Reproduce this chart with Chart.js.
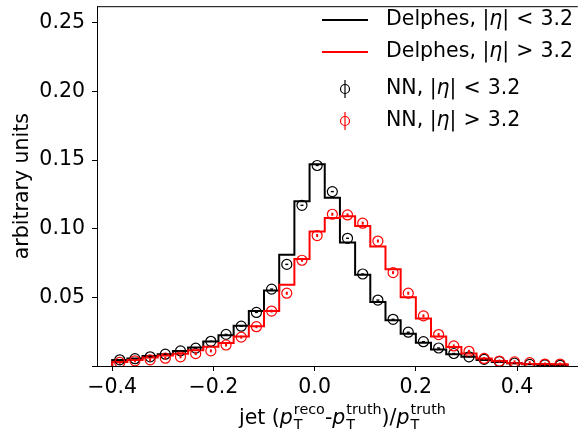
<!DOCTYPE html>
<html>
<head>
<meta charset="utf-8">
<script src="https://cdn.jsdelivr.net/npm/chart.js@4.4.1/dist/chart.umd.min.js"></script>
<style>
html, body { margin: 0; padding: 0; background: #fff; }
#wrap { width: 584px; height: 436px; position: relative; }
</style>
</head>
<body>
<div id="wrap"><canvas id="resChart"></canvas></div>
<script>
// bin edges of the pT resolution histogram
const binEdges = [-0.40, -0.37, -0.34, -0.31, -0.28, -0.25, -0.22, -0.19, -0.16, -0.13,
  -0.10, -0.07, -0.04, -0.01, 0.02, 0.05, 0.08, 0.11, 0.14, 0.17,
  0.20, 0.23, 0.26, 0.29, 0.32, 0.35, 0.38, 0.41, 0.44, 0.47, 0.50];

// Delphes, |eta| < 3.2 (black step)
const delphesCentral = [0.0043, 0.0055, 0.0072, 0.0086, 0.0110, 0.0134, 0.0179, 0.0224, 0.0294, 0.0400,
  0.0550, 0.0810, 0.1200, 0.1470, 0.1225, 0.0900, 0.0664, 0.0466, 0.0334, 0.0234,
  0.0170, 0.0120, 0.0086, 0.0067, 0.0043, 0.0030, 0.0020, 0.0012, 0.0008, 0.0005];
// Delphes, |eta| > 3.2 (red step)
const delphesForward = [0.0030, 0.0043, 0.0062, 0.0076, 0.0090, 0.0115, 0.0140, 0.0167, 0.0215, 0.0290,
  0.0400, 0.0592, 0.0780, 0.0980, 0.1078, 0.1090, 0.1020, 0.0870, 0.0704, 0.0500,
  0.0346, 0.0215, 0.0138, 0.0091, 0.0055, 0.0036, 0.0020, 0.0014, 0.0014, 0.0012];
// NN, |eta| < 3.2 (black circles)
const nnCentral = [0.0045, 0.0053, 0.0067, 0.0086, 0.0110, 0.0130, 0.0180, 0.0230, 0.0290, 0.0390,
  0.0560, 0.0740, 0.1170, 0.1460, 0.1270, 0.0930, 0.0670, 0.0480, 0.0340, 0.0246,
  0.0177, 0.0131, 0.0091, 0.0067, 0.0048, 0.0032, 0.0020, 0.0012, 0.0008, 0.0005];
// NN, |eta| > 3.2 (red circles)
const nnForward = [0.0026, 0.0038, 0.0045, 0.0057, 0.0067, 0.0090, 0.0110, 0.0153, 0.0210, 0.0286,
  0.0400, 0.0530, 0.0770, 0.0950, 0.1105, 0.1100, 0.1040, 0.0910, 0.0680, 0.0530,
  0.0365, 0.0229, 0.0146, 0.0107, 0.0055, 0.0036, 0.0030, 0.0024, 0.0014, 0.0014];

const xTicks = [-0.4, -0.2, 0.0, 0.2, 0.4];
const xTickLabels = ["\u22120.4", "\u22120.2", "0.0", "0.2", "0.4"];
const yTicks = [0, 0.05, 0.10, 0.15, 0.20, 0.25];
const yTickLabels = ["", "0.05", "0.10", "0.15", "0.20", "0.25"];

const FONT = "DejaVu Sans";
const FS = 20.5;

function stepPoints(vals) {
  const pts = [{x: binEdges[0], y: 0}];
  vals.forEach((v, i) => pts.push({x: binEdges[i], y: v}));
  pts.push({x: binEdges[vals.length], y: vals[vals.length - 1]});
  pts.push({x: binEdges[vals.length], y: 0});
  return pts;
}
function centerPoints(vals) {
  return vals.map((v, i) => ({x: (binEdges[i] + binEdges[i + 1]) / 2, y: v}));
}

// top spine, small error bars, legend, x title with sub/superscripts
const decor = {
  id: "decor",
  afterDatasetsDraw(chart) {
    const c = chart.ctx;
    // tiny error bars inside markers
    [2, 3].forEach(di => {
      const meta = chart.getDatasetMeta(di);
      c.fillStyle = chart.data.datasets[di].borderColor;
      meta.data.forEach(p => {
        if (di === 2) c.fillRect(p.x - 1.5, p.y - 0.7, 3, 1.4);
        else c.fillRect(p.x - 1, p.y - 1.5, 2, 3);
      });
    });
  },
  afterDraw(chart) {
    const c = chart.ctx;
    const a = chart.chartArea;
    c.save();
    c.strokeStyle = "#000";
    c.lineWidth = 1;
    c.beginPath();
    c.moveTo(a.left, a.top + 0.5);
    c.lineTo(a.right, a.top + 0.5);
    c.stroke();

    // legend
    const rows = [
      {type: "line", color: "#000", label: "Delphes, ", op: "<", y: 20},
      {type: "line", color: "#ff0000", label: "Delphes, ", op: ">", y: 52},
      {type: "pt", color: "#000", label: "NN, ", op: "<", y: 89},
      {type: "pt", color: "#ff0000", label: "NN, ", op: ">", y: 121}
    ];
    rows.forEach(r => {
      c.strokeStyle = r.color;
      if (r.type === "line") {
        c.lineWidth = 2;
        c.beginPath();
        c.moveTo(322, r.y);
        c.lineTo(368, r.y);
        c.stroke();
      } else {
        c.lineWidth = 1.2;
        c.beginPath();
        c.arc(345, r.y, 4.5, 0, Math.PI * 2);
        c.stroke();
        c.beginPath();
        c.moveTo(345, r.y - 9);
        c.lineTo(345, r.y + 9);
        c.stroke();
      }
      c.fillStyle = "#000";
      c.textBaseline = "middle";
      c.textAlign = "left";
      let x = 386;
      c.font = FS + "px '" + FONT + "'";
      c.fillText(r.label, x, r.y);
      x += c.measureText(r.label).width;
      c.fillText("|", x, r.y);
      x += c.measureText("|").width;
      c.font = "italic " + FS + "px '" + FONT + "'";
      c.fillText("\u03b7", x, r.y);
      x += c.measureText("\u03b7").width;
      c.font = FS + "px '" + FONT + "'";
      c.fillText("|", x, r.y);
      x += c.measureText("|").width + 7;
      c.fillText(r.op, x, r.y);
      x += c.measureText(r.op).width + 7;
      c.fillText("3.2", x, r.y);
    });

    // x axis title: jet (pT^reco - pT^truth)/pT^truth
    const base = 424;
    const sFS = FS * 0.7;
    const pieces = [
      {t: "jet (", it: false},
      {t: "p", it: true, sup: "reco", sub: "T"},
      {t: "-", it: false},
      {t: "p", it: true, sup: "truth", sub: "T"},
      {t: ")/", it: false},
      {t: "p", it: true, sup: "truth", sub: "T"}
    ];
    const fMain = it => (it ? "italic " : "") + FS + "px '" + FONT + "'";
    const fSmall = sFS + "px '" + FONT + "'";
    let total = 0;
    pieces.forEach(p => {
      c.font = fMain(p.it);
      p.w = c.measureText(p.t).width;
      if (p.sup) {
        c.font = fSmall;
        p.sw = Math.max(c.measureText(p.sup).width, c.measureText(p.sub).width) + 1;
      } else p.sw = 0;
      total += p.w + p.sw;
    });
    let x = (a.left + a.right) / 2 + 5 - total / 2;
    c.textBaseline = "alphabetic";
    c.fillStyle = "#000";
    pieces.forEach(p => {
      c.font = fMain(p.it);
      c.fillText(p.t, x, base);
      x += p.w;
      if (p.sup) {
        c.font = fSmall;
        c.fillText(p.sup, x + 1, base - 10.5);
        c.fillText(p.sub, x + 1, base + 4.5);
        x += p.sw;
      }
    });
    c.restore();
  }
};

new Chart(document.getElementById("resChart"), {
  type: "scatter",
  data: {
    datasets: [
      {
        type: "line", label: "Delphes, |\u03b7| < 3.2", data: stepPoints(delphesCentral),
        stepped: "before", borderColor: "#000", borderWidth: 2, pointRadius: 0, fill: false, order: 4
      },
      {
        type: "line", label: "Delphes, |\u03b7| > 3.2", data: stepPoints(delphesForward),
        stepped: "before", borderColor: "#ff0000", borderWidth: 2, pointRadius: 0, fill: false, order: 3
      },
      {
        label: "NN, |\u03b7| < 3.2", data: centerPoints(nnCentral),
        borderColor: "#000", backgroundColor: "rgba(0,0,0,0)", pointRadius: 5, borderWidth: 1.2, order: 2
      },
      {
        label: "NN, |\u03b7| > 3.2", data: centerPoints(nnForward),
        borderColor: "#ff0000", backgroundColor: "rgba(0,0,0,0)", pointRadius: 5, borderWidth: 1.2, order: 1
      }
    ]
  },
  options: {
    responsive: true,
    maintainAspectRatio: false,
    animation: false,
    layout: { padding: { top: 0, right: 0, left: 0, bottom: 0 } },
    plugins: {
      legend: { display: false },
      tooltip: { enabled: false }
    },
    scales: {
      x: {
        type: "linear",
        min: -0.43,
        max: 0.52,
        afterBuildTicks: s => { s.ticks = xTicks.map(v => ({value: v})); },
        afterFit: s => { s.height = 70; s.paddingLeft = 0; s.paddingRight = 0; },
        grid: { drawOnChartArea: false, drawTicks: true, tickLength: 5, color: "#000", tickWidth: 1 },
        border: { display: true, color: "#000", width: 1 },
        ticks: {
          color: "#000",
          padding: 4,
          maxRotation: 0,
          font: { family: FONT, size: FS },
          callback: (v) => xTickLabels[xTicks.findIndex(t => Math.abs(t - v) < 1e-9)]
        }
      },
      y: {
        type: "linear",
        min: 0,
        max: 0.262,
        afterBuildTicks: s => { s.ticks = yTicks.map(v => ({value: v})); },
        afterFit: s => { s.width = 97; s.paddingTop = 0; s.paddingBottom = 0; },
        grid: { drawOnChartArea: false, drawTicks: true, tickLength: 5, color: "#000", tickWidth: 1 },
        border: { display: true, color: "#000", width: 1 },
        title: {
          display: true,
          text: "arbitrary units",
          color: "#000",
          font: { family: FONT, size: FS },
          padding: { top: 10, bottom: 0 }
        },
        ticks: {
          color: "#000",
          padding: 7,
          font: { family: FONT, size: FS },
          callback: (v) => yTickLabels[yTicks.findIndex(t => Math.abs(t - v) < 1e-9)]
        }
      }
    }
  },
  plugins: [decor]
});
</script>
</body>
</html>
